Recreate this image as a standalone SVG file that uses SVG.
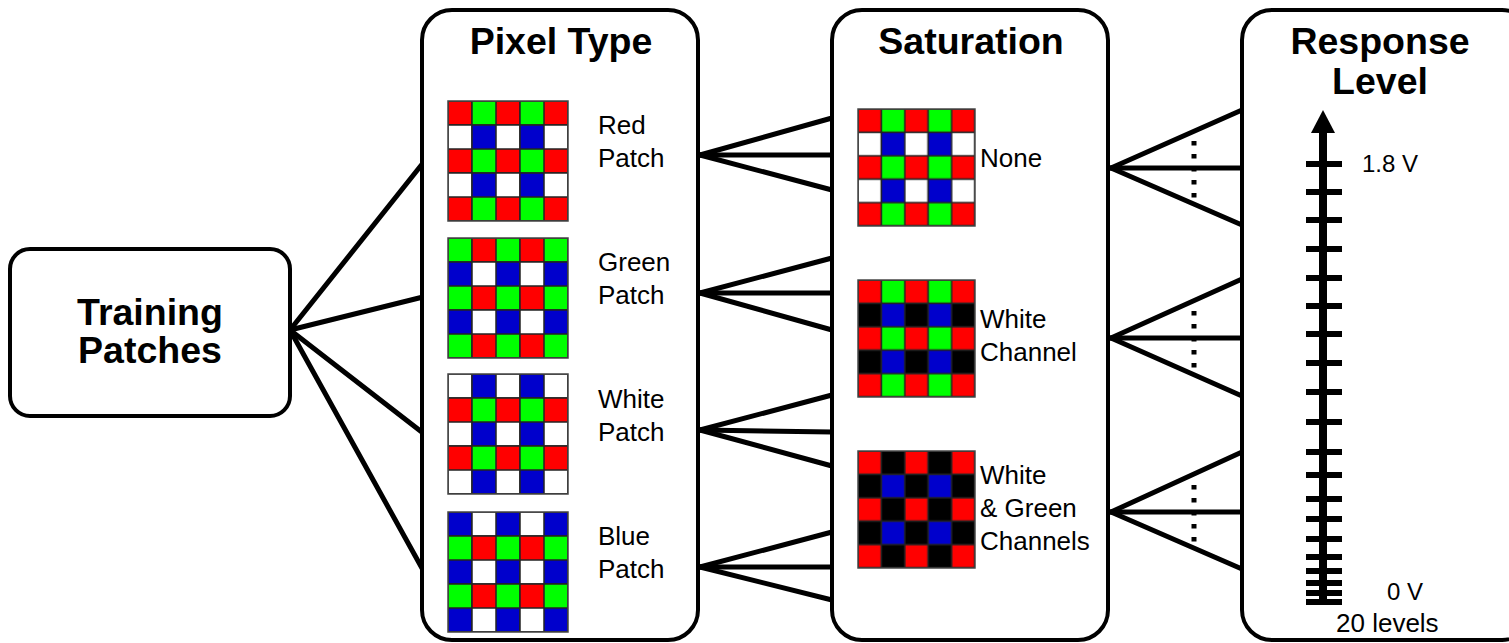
<svg xmlns="http://www.w3.org/2000/svg" width="1509" height="643" viewBox="0 0 1509 643">
<style>
.box{fill:#fff;stroke:#000;stroke-width:4}
.title{font-family:"Liberation Sans",Arial,sans-serif;font-weight:bold;font-size:37.5px;fill:#000;text-anchor:middle}
.lbl{font-family:"Liberation Sans",Arial,sans-serif;font-size:26px;fill:#000}
.c{stroke:#222;stroke-width:1.5}
.r{fill:#ff0000}.g{fill:#00ff00}.b{fill:#0000cc}.w{fill:#ffffff}.k{fill:#000000}
.patch{stroke:#444;stroke-width:1.5}
.conn line{stroke:#000;stroke-width:5;stroke-linecap:round}
.conn .dots line{stroke:#000;stroke-width:5;stroke-linecap:butt;stroke-dasharray:4.5 8.5}
.tick{fill:#000}
</style>
<defs>
<pattern id="pRGWB" width="48" height="48" patternUnits="userSpaceOnUse">
<rect class="c r" x="0" y="0" width="24" height="24"/><rect class="c g" x="24" y="0" width="24" height="24"/>
<rect class="c w" x="0" y="24" width="24" height="24"/><rect class="c b" x="24" y="24" width="24" height="24"/>
</pattern>
<pattern id="pGRBW" width="48" height="48" patternUnits="userSpaceOnUse">
<rect class="c g" x="0" y="0" width="24" height="24"/><rect class="c r" x="24" y="0" width="24" height="24"/>
<rect class="c b" x="0" y="24" width="24" height="24"/><rect class="c w" x="24" y="24" width="24" height="24"/>
</pattern>
<pattern id="pWBRG" width="48" height="48" patternUnits="userSpaceOnUse">
<rect class="c w" x="0" y="0" width="24" height="24"/><rect class="c b" x="24" y="0" width="24" height="24"/>
<rect class="c r" x="0" y="24" width="24" height="24"/><rect class="c g" x="24" y="24" width="24" height="24"/>
</pattern>
<pattern id="pBWGR" width="48" height="48" patternUnits="userSpaceOnUse">
<rect class="c b" x="0" y="0" width="24" height="24"/><rect class="c w" x="24" y="0" width="24" height="24"/>
<rect class="c g" x="0" y="24" width="24" height="24"/><rect class="c r" x="24" y="24" width="24" height="24"/>
</pattern>
<pattern id="pRGKB" width="48" height="48" patternUnits="userSpaceOnUse">
<rect class="c r" x="0" y="0" width="24" height="24"/><rect class="c g" x="24" y="0" width="24" height="24"/>
<rect class="c k" x="0" y="24" width="24" height="24"/><rect class="c b" x="24" y="24" width="24" height="24"/>
</pattern>
<pattern id="pRKKB" width="48" height="48" patternUnits="userSpaceOnUse">
<rect class="c r" x="0" y="0" width="24" height="24"/><rect class="c k" x="24" y="0" width="24" height="24"/>
<rect class="c k" x="0" y="24" width="24" height="24"/><rect class="c b" x="24" y="24" width="24" height="24"/>
</pattern>
</defs>
<rect width="1509" height="643" fill="#fff"/>

<g id="connectors" class="conn">
<line x1="290" y1="330" x2="423" y2="163"/>
<line x1="290" y1="330" x2="423" y2="297"/>
<line x1="290" y1="330" x2="423" y2="433"/>
<line x1="290" y1="330" x2="423" y2="570"/>

<line x1="700" y1="155" x2="832" y2="118"/>
<line x1="700" y1="155" x2="832" y2="155"/>
<line x1="700" y1="155" x2="832" y2="190"/>
<line x1="700" y1="293" x2="832" y2="258"/>
<line x1="700" y1="293" x2="832" y2="293"/>
<line x1="700" y1="293" x2="832" y2="330"/>
<line x1="700" y1="430" x2="832" y2="395"/>
<line x1="700" y1="430" x2="832" y2="432"/>
<line x1="700" y1="430" x2="832" y2="466"/>
<line x1="700" y1="567" x2="832" y2="532"/>
<line x1="700" y1="567" x2="832" y2="567"/>
<line x1="700" y1="567" x2="832" y2="600"/>

<line x1="1111" y1="168" x2="1242" y2="110"/>
<line x1="1111" y1="168" x2="1242" y2="168"/>
<line x1="1111" y1="168" x2="1242" y2="225"/>
<line x1="1111" y1="338" x2="1242" y2="279"/>
<line x1="1111" y1="338" x2="1242" y2="338"/>
<line x1="1111" y1="338" x2="1242" y2="396"/>
<line x1="1111" y1="512" x2="1242" y2="452"/>
<line x1="1111" y1="512" x2="1242" y2="512"/>
<line x1="1111" y1="512" x2="1242" y2="569"/>
<g class="dots">
<line x1="1194" y1="141" x2="1194" y2="198"/>
<line x1="1194" y1="311" x2="1194" y2="368"/>
<line x1="1194" y1="485" x2="1194" y2="542"/>
</g>
</g>

<g id="training-patches">
<rect class="box" x="10" y="249" width="280" height="167" rx="20"/>
<text class="title" x="150" y="325">Training</text>
<text class="title" x="150" y="363">Patches</text>
</g>

<g id="pixel-type">
<rect class="box" x="422" y="10" width="276" height="630" rx="30"/>
<text class="title" x="561" y="54">Pixel Type</text>
<g id="red-patch">
<g transform="translate(448,101)"><rect class="patch" width="120" height="120" fill="url(#pRGWB)"/></g>
<text class="lbl" x="598" y="134">Red</text><text class="lbl" x="598" y="167">Patch</text>
</g>
<g id="green-patch">
<g transform="translate(448,238)"><rect class="patch" width="120" height="120" fill="url(#pGRBW)"/></g>
<text class="lbl" x="598" y="271">Green</text><text class="lbl" x="598" y="304">Patch</text>
</g>
<g id="white-patch">
<g transform="translate(448,374)"><rect class="patch" width="120" height="120" fill="url(#pWBRG)"/></g>
<text class="lbl" x="598" y="408">White</text><text class="lbl" x="598" y="441">Patch</text>
</g>
<g id="blue-patch">
<g transform="translate(448,512)"><rect class="patch" width="120" height="120" fill="url(#pBWGR)"/></g>
<text class="lbl" x="598" y="545">Blue</text><text class="lbl" x="598" y="578">Patch</text>
</g>
</g>

<g id="saturation">
<rect class="box" x="832" y="10" width="276" height="630" rx="30"/>
<text class="title" x="971" y="54">Saturation</text>
<g id="sat-none">
<g transform="translate(858,109) scale(0.975)"><rect class="patch" width="120" height="120" fill="url(#pRGWB)"/></g>
<text class="lbl" x="980" y="167">None</text>
</g>
<g id="sat-white">
<g transform="translate(858,280) scale(0.975)"><rect class="patch" width="120" height="120" fill="url(#pRGKB)"/></g>
<text class="lbl" x="980" y="328">White</text><text class="lbl" x="980" y="361">Channel</text>
</g>
<g id="sat-white-green">
<g transform="translate(858,451) scale(0.975)"><rect class="patch" width="120" height="120" fill="url(#pRKKB)"/></g>
<text class="lbl" x="980" y="484">White</text><text class="lbl" x="980" y="517">&amp; Green</text><text class="lbl" x="980" y="550">Channels</text>
</g>
</g>

<g id="response-level">
<rect class="box" x="1242" y="10" width="290" height="630" rx="30"/>
<text class="title" x="1380" y="54">Response</text>
<text class="title" x="1380" y="94">Level</text>
<rect class="tick" x="1319" y="128" width="8" height="477"/>
<polygon class="tick" points="1323,110 1335,133 1311,133"/>
<g class="tick">
<rect x="1306" y="161" width="36" height="6"/>
<rect x="1306" y="189" width="36" height="6"/>
<rect x="1306" y="217" width="36" height="6"/>
<rect x="1306" y="246" width="36" height="6"/>
<rect x="1306" y="275" width="36" height="6"/>
<rect x="1306" y="303" width="36" height="6"/>
<rect x="1306" y="331" width="36" height="6"/>
<rect x="1306" y="360" width="36" height="6"/>
<rect x="1306" y="389" width="36" height="6"/>
<rect x="1306" y="419" width="36" height="6"/>
<rect x="1306" y="449" width="36" height="6"/>
<rect x="1306" y="472" width="36" height="6"/>
<rect x="1306" y="496" width="36" height="6"/>
<rect x="1306" y="516" width="36" height="6"/>
<rect x="1306" y="536" width="36" height="6"/>
<rect x="1306" y="554" width="36" height="6"/>
<rect x="1306" y="568" width="36" height="6"/>
<rect x="1306" y="580" width="36" height="6"/>
<rect x="1306" y="590" width="36" height="6"/>
<rect x="1306" y="599" width="36" height="6"/>
</g>
<text class="lbl" x="1362" y="172" style="font-size:24px">1.8 V</text>
<text class="lbl" x="1387" y="600" style="font-size:24px">0 V</text>
<text class="lbl" x="1336" y="632">20 levels</text>
</g>
</svg>
